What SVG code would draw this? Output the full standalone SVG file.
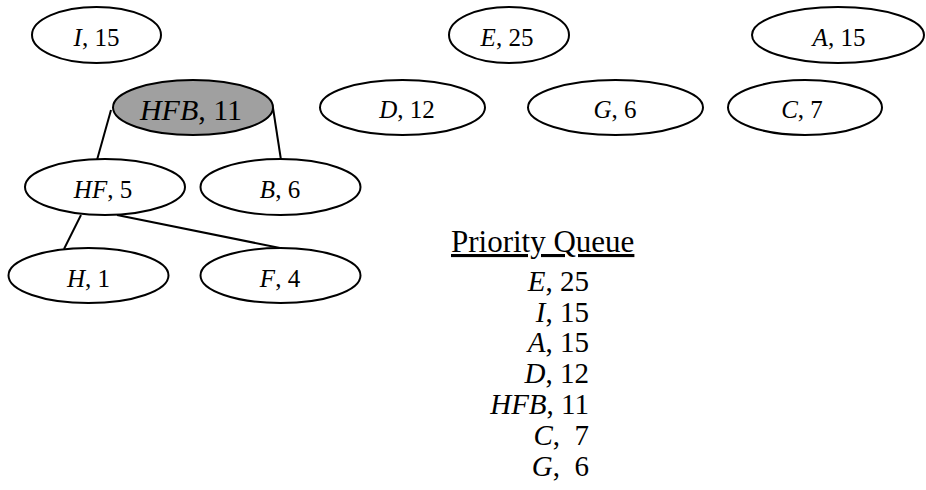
<svg xmlns="http://www.w3.org/2000/svg" width="926" height="490" viewBox="0 0 926 490">
<style>
.n{fill:#fff;stroke:#000;stroke-width:2}
.g{fill:#a0a0a0;stroke:#000;stroke-width:2}
.t{font-family:"Liberation Serif","Times New Roman",serif;font-size:25px;fill:#000;text-anchor:middle}
.big{font-size:30px}
.q{font-family:"Liberation Serif","Times New Roman",serif;font-size:29px;fill:#000;text-anchor:end}
.title{font-size:31px;text-anchor:start}
#connectors line{stroke:#000;stroke-width:2}
</style>
<rect width="926" height="490" fill="#fff"/>
<g id="connectors">
<line x1="111" y1="110" x2="97" y2="160"/>
<line x1="273" y1="108" x2="281" y2="160"/>
<line x1="81" y1="215" x2="64" y2="249"/>
<line x1="117" y1="215" x2="280" y2="248"/>
</g>
<g id="I"><ellipse class="n" cx="96.5" cy="35" rx="64.5" ry="28"/><text class="t" x="96.5" y="46"><tspan font-style="italic">I</tspan>, 15</text></g>
<g id="E"><ellipse class="n" cx="509" cy="35" rx="60" ry="28"/><text class="t" x="507" y="46"><tspan font-style="italic">E</tspan>, 25</text></g>
<g id="A"><ellipse class="n" cx="838" cy="35" rx="86" ry="28"/><text class="t" x="839" y="46"><tspan font-style="italic">A</tspan>, 15</text></g>
<g id="HFB"><ellipse class="g" cx="193" cy="107.5" rx="80" ry="27.5"/><text class="t big" x="191" y="120"><tspan font-style="italic">HFB</tspan>, 11</text></g>
<g id="D"><ellipse class="n" cx="402.5" cy="107.5" rx="82.5" ry="27.5"/><text class="t" x="407" y="118"><tspan font-style="italic">D</tspan>, 12</text></g>
<g id="G"><ellipse class="n" cx="615.5" cy="107.5" rx="87.5" ry="27.5"/><text class="t" x="615" y="118"><tspan font-style="italic">G</tspan>, 6</text></g>
<g id="C"><ellipse class="n" cx="805" cy="107.5" rx="77" ry="27.5"/><text class="t" x="802" y="118"><tspan font-style="italic">C</tspan>, 7</text></g>
<g id="HF"><ellipse class="n" cx="105" cy="187" rx="80" ry="28"/><text class="t" x="103" y="198"><tspan font-style="italic">HF</tspan>, 5</text></g>
<g id="B"><ellipse class="n" cx="280.5" cy="187" rx="80" ry="28"/><text class="t" x="280" y="198"><tspan font-style="italic">B</tspan>, 6</text></g>
<g id="H"><ellipse class="n" cx="88.5" cy="275.5" rx="80" ry="27.5"/><text class="t" x="88.5" y="286.5"><tspan font-style="italic">H</tspan>, 1</text></g>
<g id="F"><ellipse class="n" cx="280.5" cy="275.5" rx="80" ry="27.5"/><text class="t" x="280" y="286.5"><tspan font-style="italic">F</tspan>, 4</text></g>
<g id="queue">
<text class="q title" x="451" y="252" text-decoration="underline">Priority Queue</text>
<text class="q" x="589" y="291"><tspan font-style="italic">E</tspan>, 25</text>
<text class="q" x="589" y="321.5"><tspan font-style="italic">I</tspan>, 15</text>
<text class="q" x="589" y="352"><tspan font-style="italic">A</tspan>, 15</text>
<text class="q" x="589" y="383"><tspan font-style="italic">D</tspan>, 12</text>
<text class="q" x="589" y="414"><tspan font-style="italic">HFB</tspan>, 11</text>
<text class="q" x="589" y="445" xml:space="preserve"><tspan font-style="italic">C</tspan>,  7</text>
<text class="q" x="589" y="476" xml:space="preserve"><tspan font-style="italic">G</tspan>,  6</text>
</g>
</svg>
